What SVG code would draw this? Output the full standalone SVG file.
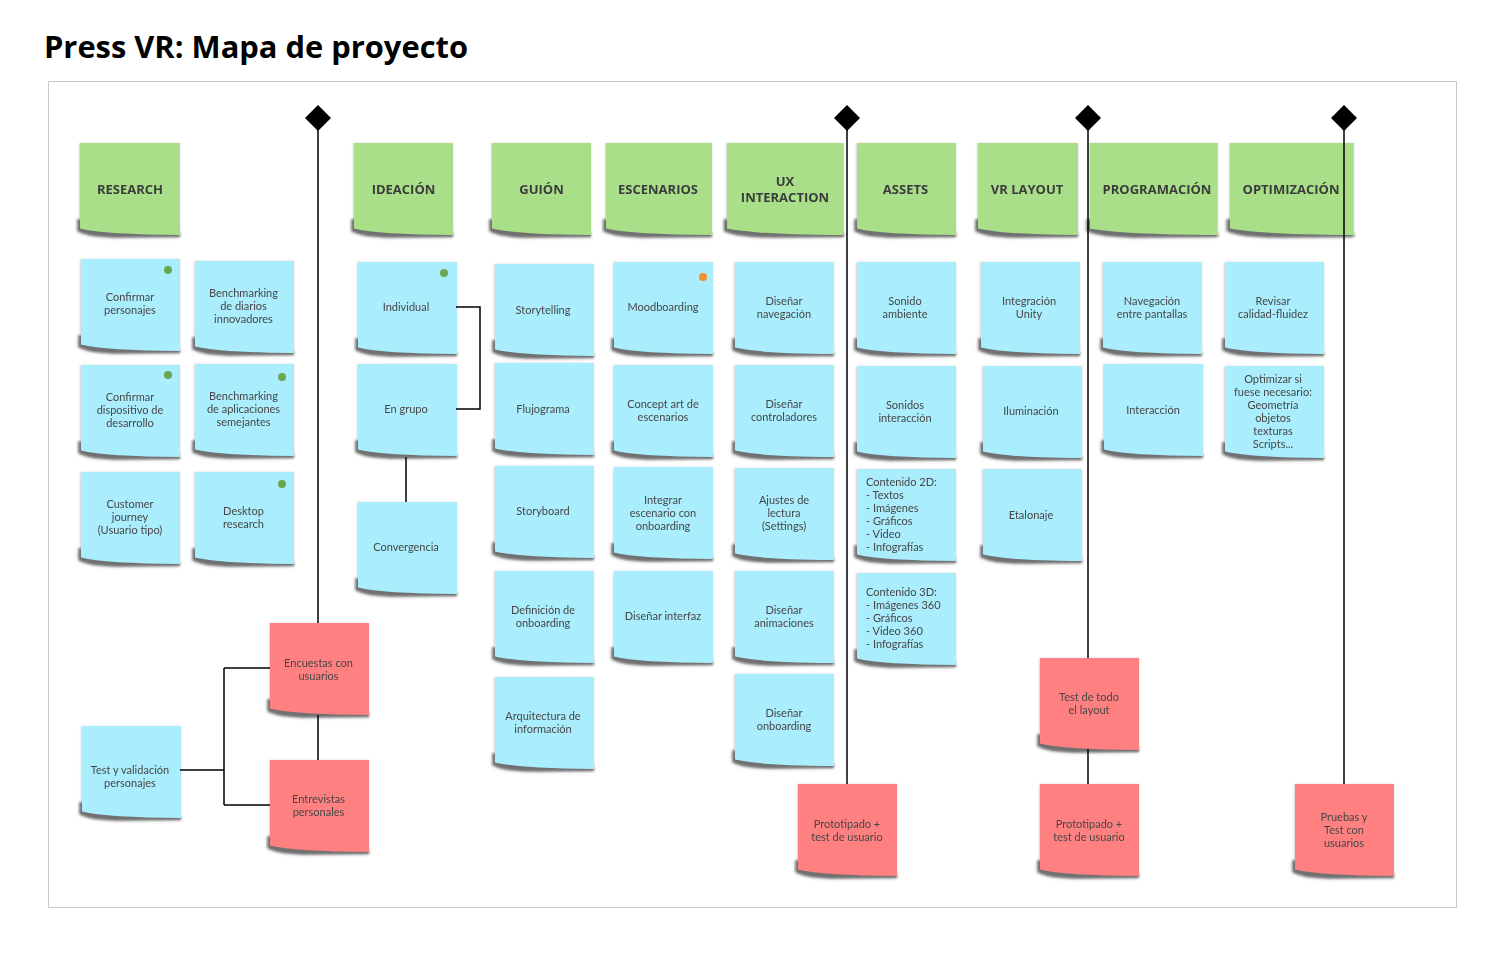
<svg xmlns="http://www.w3.org/2000/svg" xmlns:xlink="http://www.w3.org/1999/xlink" width="1504" height="962" viewBox="0 0 1504 962">
<style>
.blue{fill:#aaedfd}.green{fill:#aadf89}.red{fill:#ff8080}
.sh{fill:#6f6f6f;filter:url(#blur)}
.note{filter:url(#soft)}
text{font-family:Lato,"Open Sans","Liberation Sans",sans-serif}
.t{font-size:11px;fill:#474747;text-anchor:middle}
.tl{font-size:11px;fill:#474747;text-anchor:start}
.h{font-family:"Open Sans","Noto Sans","Liberation Sans",sans-serif;font-size:13px;font-weight:700;fill:#3b3b3b;text-anchor:middle}
.c{stroke:#000;stroke-width:1.5;fill:none}
.dg{fill:#6aa84f}.do{fill:#f5902f}
</style>
<defs>
<filter id="blur" x="-10%" y="-10%" width="120%" height="130%"><feGaussianBlur stdDeviation="1.1"/></filter>
<filter id="soft" x="-10%" y="-10%" width="120%" height="125%"><feDropShadow dx="-0.5" dy="0.5" stdDeviation="1.2" flood-color="#000" flood-opacity="0.25"/></filter>
<path id="shp" d="M0,0 H99 V92 Q25,91.5 0,85.5 Z"/>
<path id="shd" d="M-2.5,76 L-2.5,88 Q8,94.5 40,94.5 L99,94 L99,90 Z"/>
</defs>
<rect x="0" y="0" width="1504" height="962" fill="#fff"/>
<text x="44" y="58" textLength="424" lengthAdjust="spacingAndGlyphs" style="font-family:'Open Sans','Noto Sans',sans-serif;font-size:30px;font-weight:700;fill:#000">Press VR: Mapa de proyecto</text>
<rect x="48.5" y="81.5" width="1408" height="826" fill="#fff" stroke="#c8c8c8" stroke-width="1"/>

<!-- Headers -->
<g id="h-research" class="note" transform="translate(80,143)"><use href="#shd" class="sh" transform="scale(1.01,1)"/><use href="#shp" class="green" transform="scale(1.01,1)"/><text class="h" x="50" y="51">RESEARCH</text></g>
<g id="h-ideacion" class="note" transform="translate(354,143)"><use href="#shd" class="sh"/><use href="#shp" class="green"/><text class="h" x="49.5" y="51">IDEACIÓN</text></g>
<g id="h-guion" class="note" transform="translate(492,143)"><use href="#shd" class="sh"/><use href="#shp" class="green"/><text class="h" x="49.5" y="51">GUIÓN</text></g>
<g id="h-escenarios" class="note" transform="translate(606,143)"><use href="#shd" class="sh" transform="scale(1.07,1)"/><use href="#shp" class="green" transform="scale(1.07,1)"/><text class="h" x="52" y="51">ESCENARIOS</text></g>
<g id="h-ux" class="note" transform="translate(727,143)"><use href="#shd" class="sh" transform="scale(1.18,1)"/><use href="#shp" class="green" transform="scale(1.18,1)"/><text class="h" x="58" y="43">UX</text><text class="h" x="58" y="59">INTERACTION</text></g>
<g id="h-assets" class="note" transform="translate(857,143)"><use href="#shd" class="sh"/><use href="#shp" class="green"/><text class="h" x="48.5" y="51">ASSETS</text></g>
<g id="h-vrlayout" class="note" transform="translate(978,143)"><use href="#shd" class="sh" transform="scale(1.01,1)"/><use href="#shp" class="green" transform="scale(1.01,1)"/><text class="h" x="49" y="51">VR LAYOUT</text></g>
<g id="h-programacion" class="note" transform="translate(1090,143)"><use href="#shd" class="sh" transform="scale(1.29,1)"/><use href="#shp" class="green" transform="scale(1.29,1)"/><text class="h" x="67" y="51">PROGRAMACIÓN</text></g>
<g id="h-optimizacion" class="note" transform="translate(1230,143)"><use href="#shd" class="sh" transform="scale(1.25,1)"/><use href="#shp" class="green" transform="scale(1.25,1)"/><text class="h" x="61" y="51">OPTIMIZACIÓN</text></g>

<!-- Research -->
<g id="n-confirmar-personajes" class="note" transform="translate(81,259)"><use href="#shd" class="sh"/><use href="#shp" class="blue"/><circle class="dg" cx="87" cy="11" r="4"/><text class="t" x="49" y="42">Confirmar</text><text class="t" x="49" y="55">personajes</text></g>
<g id="n-bench-diarios" class="note" transform="translate(195,261)"><use href="#shd" class="sh"/><use href="#shp" class="blue"/><text class="t" x="48.5" y="36">Benchmarking</text><text class="t" x="48.5" y="49">de diarios</text><text class="t" x="48.5" y="62">innovadores</text></g>
<g id="n-confirmar-dispositivo" class="note" transform="translate(81,365)"><use href="#shd" class="sh"/><use href="#shp" class="blue"/><circle class="dg" cx="87" cy="10" r="4"/><text class="t" x="49" y="36">Confirmar</text><text class="t" x="49" y="49">dispositivo de</text><text class="t" x="49" y="62">desarrollo</text></g>
<g id="n-bench-apps" class="note" transform="translate(195,364)"><use href="#shd" class="sh"/><use href="#shp" class="blue"/><circle class="dg" cx="87" cy="13" r="4"/><text class="t" x="48.5" y="36">Benchmarking</text><text class="t" x="48.5" y="49">de aplicaciones</text><text class="t" x="48.5" y="62">semejantes</text></g>
<g id="n-customer-journey" class="note" transform="translate(81,472)"><use href="#shd" class="sh"/><use href="#shp" class="blue"/><text class="t" x="49" y="36">Customer</text><text class="t" x="49" y="49">journey</text><text class="t" x="49" y="62">(Usuario tipo)</text></g>
<g id="n-desktop-research" class="note" transform="translate(195,472)"><use href="#shd" class="sh"/><use href="#shp" class="blue"/><circle class="dg" cx="87" cy="12" r="4"/><text class="t" x="48.5" y="43">Desktop</text><text class="t" x="48.5" y="56">research</text></g>
<g id="n-test-validacion" class="note" transform="translate(82,726)"><use href="#shd" class="sh"/><use href="#shp" class="blue"/><text class="t" x="48" y="48">Test y validación</text><text class="t" x="48" y="61">personajes</text></g>
<g id="n-encuestas" class="note" transform="translate(270,623)"><use href="#shd" class="sh"/><use href="#shp" class="red"/><text class="t" x="48.5" y="44">Encuestas con</text><text class="t" x="48.5" y="57">usuarios</text></g>
<g id="n-entrevistas" class="note" transform="translate(270,760)"><use href="#shd" class="sh"/><use href="#shp" class="red"/><text class="t" x="48.5" y="43">Entrevistas</text><text class="t" x="48.5" y="56">personales</text></g>

<!-- Ideacion -->
<g id="n-individual" class="note" transform="translate(358,262)"><use href="#shd" class="sh"/><use href="#shp" class="blue"/><circle class="dg" cx="86" cy="11" r="4"/><text class="t" x="48" y="49">Individual</text></g>
<g id="n-en-grupo" class="note" transform="translate(358,364)"><use href="#shd" class="sh"/><use href="#shp" class="blue"/><text class="t" x="48" y="49">En grupo</text></g>
<g id="n-convergencia" class="note" transform="translate(358,502)"><use href="#shd" class="sh"/><use href="#shp" class="blue"/><text class="t" x="48" y="49">Convergencia</text></g>

<!-- Guion -->
<g id="n-storytelling" class="note" transform="translate(495,264)"><use href="#shd" class="sh"/><use href="#shp" class="blue"/><text class="t" x="48" y="50">Storytelling</text></g>
<g id="n-flujograma" class="note" transform="translate(495,363)"><use href="#shd" class="sh"/><use href="#shp" class="blue"/><text class="t" x="48" y="50">Flujograma</text></g>
<g id="n-storyboard" class="note" transform="translate(495,466)"><use href="#shd" class="sh"/><use href="#shp" class="blue"/><text class="t" x="48" y="49">Storyboard</text></g>
<g id="n-def-onboarding" class="note" transform="translate(495,571)"><use href="#shd" class="sh"/><use href="#shp" class="blue"/><text class="t" x="48" y="43">Definición de</text><text class="t" x="48" y="56">onboarding</text></g>
<g id="n-arquitectura" class="note" transform="translate(495,677)"><use href="#shd" class="sh"/><use href="#shp" class="blue"/><text class="t" x="48" y="43">Arquitectura de</text><text class="t" x="48" y="56">información</text></g>

<!-- Escenarios -->
<g id="n-moodboarding" class="note" transform="translate(614,262)"><use href="#shd" class="sh"/><use href="#shp" class="blue"/><circle class="do" cx="89" cy="15" r="4"/><text class="t" x="49" y="49">Moodboarding</text></g>
<g id="n-concept-art" class="note" transform="translate(614,365)"><use href="#shd" class="sh"/><use href="#shp" class="blue"/><text class="t" x="49" y="43">Concept art de</text><text class="t" x="49" y="56">escenarios</text></g>
<g id="n-integrar-escenario" class="note" transform="translate(614,467)"><use href="#shd" class="sh"/><use href="#shp" class="blue"/><text class="t" x="49" y="37">Integrar</text><text class="t" x="49" y="50">escenario con</text><text class="t" x="49" y="63">onboarding</text></g>
<g id="n-disenar-interfaz" class="note" transform="translate(614,571)"><use href="#shd" class="sh"/><use href="#shp" class="blue"/><text class="t" x="49" y="49">Diseñar interfaz</text></g>

<!-- UX -->
<g id="n-disenar-navegacion" class="note" transform="translate(735,262)"><use href="#shd" class="sh"/><use href="#shp" class="blue"/><text class="t" x="49" y="43">Diseñar</text><text class="t" x="49" y="56">navegación</text></g>
<g id="n-disenar-controladores" class="note" transform="translate(735,365)"><use href="#shd" class="sh"/><use href="#shp" class="blue"/><text class="t" x="49" y="43">Diseñar</text><text class="t" x="49" y="56">controladores</text></g>
<g id="n-ajustes-lectura" class="note" transform="translate(735,468)"><use href="#shd" class="sh"/><use href="#shp" class="blue"/><text class="t" x="49" y="36">Ajustes de</text><text class="t" x="49" y="49">lectura</text><text class="t" x="49" y="62">(Settings)</text></g>
<g id="n-disenar-animaciones" class="note" transform="translate(735,571)"><use href="#shd" class="sh"/><use href="#shp" class="blue"/><text class="t" x="49" y="43">Diseñar</text><text class="t" x="49" y="56">animaciones</text></g>
<g id="n-disenar-onboarding" class="note" transform="translate(735,674)"><use href="#shd" class="sh"/><use href="#shp" class="blue"/><text class="t" x="49" y="43">Diseñar</text><text class="t" x="49" y="56">onboarding</text></g>
<g id="n-prototipado-1" class="note" transform="translate(798,784)"><use href="#shd" class="sh"/><use href="#shp" class="red"/><text class="t" x="49" y="44">Prototipado +</text><text class="t" x="49" y="57">test de usuario</text></g>

<!-- Assets -->
<g id="n-sonido-ambiente" class="note" transform="translate(857,262)"><use href="#shd" class="sh"/><use href="#shp" class="blue"/><text class="t" x="48" y="43">Sonido</text><text class="t" x="48" y="56">ambiente</text></g>
<g id="n-sonidos-interaccion" class="note" transform="translate(857,366)"><use href="#shd" class="sh"/><use href="#shp" class="blue"/><text class="t" x="48" y="43">Sonidos</text><text class="t" x="48" y="56">interacción</text></g>
<g id="n-contenido-2d" class="note" transform="translate(857,469)"><use href="#shd" class="sh"/><use href="#shp" class="blue"/><text class="tl" x="9" y="17">Contenido 2D:</text><text class="tl" x="9" y="30">- Textos</text><text class="tl" x="9" y="43">- Imágenes</text><text class="tl" x="9" y="56">- Gráficos</text><text class="tl" x="9" y="69">- Video</text><text class="tl" x="9" y="82">- Infografías</text></g>
<g id="n-contenido-3d" class="note" transform="translate(857,573)"><use href="#shd" class="sh"/><use href="#shp" class="blue"/><text class="tl" x="9" y="23">Contenido 3D:</text><text class="tl" x="9" y="36">- Imágenes 360</text><text class="tl" x="9" y="49">- Gráficos</text><text class="tl" x="9" y="62">- Video 360</text><text class="tl" x="9" y="75">- Infografías</text></g>

<!-- VR Layout -->
<g id="n-integracion-unity" class="note" transform="translate(981,262)"><use href="#shd" class="sh"/><use href="#shp" class="blue"/><text class="t" x="48" y="43">Integración</text><text class="t" x="48" y="56">Unity</text></g>
<g id="n-iluminacion" class="note" transform="translate(983,366)"><use href="#shd" class="sh"/><use href="#shp" class="blue"/><text class="t" x="48" y="49">Iluminación</text></g>
<g id="n-etalonaje" class="note" transform="translate(983,469)"><use href="#shd" class="sh"/><use href="#shp" class="blue"/><text class="t" x="48" y="50">Etalonaje</text></g>
<g id="n-test-layout" class="note" transform="translate(1040,658)"><use href="#shd" class="sh"/><use href="#shp" class="red"/><text class="t" x="49" y="43">Test de todo</text><text class="t" x="49" y="56">el layout</text></g>
<g id="n-prototipado-2" class="note" transform="translate(1040,784)"><use href="#shd" class="sh"/><use href="#shp" class="red"/><text class="t" x="49" y="44">Prototipado +</text><text class="t" x="49" y="57">test de usuario</text></g>

<!-- Programacion -->
<g id="n-navegacion-pantallas" class="note" transform="translate(1103,262)"><use href="#shd" class="sh"/><use href="#shp" class="blue"/><text class="t" x="49" y="43">Navegación</text><text class="t" x="49" y="56">entre pantallas</text></g>
<g id="n-interaccion" class="note" transform="translate(1104,364)"><use href="#shd" class="sh"/><use href="#shp" class="blue"/><text class="t" x="49" y="50">Interacción</text></g>

<!-- Optimizacion -->
<g id="n-revisar-calidad" class="note" transform="translate(1225,262)"><use href="#shd" class="sh"/><use href="#shp" class="blue"/><text class="t" x="48" y="43">Revisar</text><text class="t" x="48" y="56">calidad-fluidez</text></g>
<g id="n-optimizar" class="note" transform="translate(1225,366)"><use href="#shd" class="sh"/><use href="#shp" class="blue"/><text class="t" x="48" y="17">Optimizar si</text><text class="t" x="48" y="30">fuese necesario:</text><text class="t" x="48" y="43">Geometría</text><text class="t" x="48" y="56">objetos</text><text class="t" x="48" y="69">texturas</text><text class="t" x="48" y="82">Scripts...</text></g>
<g id="n-pruebas" class="note" transform="translate(1295,784)"><use href="#shd" class="sh"/><use href="#shp" class="red"/><text class="t" x="49" y="37">Pruebas y</text><text class="t" x="49" y="50">Test con</text><text class="t" x="49" y="63">usuarios</text></g>

<!-- Connectors -->
<g id="connectors">
<path class="c" d="M318,118 V623"/>
<path class="c" d="M318,715 V760"/>
<path class="c" d="M180,770 H224 M224,668 V805 M224,668 H270 M224,805 H270"/>
<path class="c" d="M456,307 H480 V409 H456"/>
<path class="c" d="M406,457 V502"/>
<path class="c" d="M847,118 V784"/>
<path class="c" d="M1088,118 V658"/>
<path class="c" d="M1088,749 V784"/>
<path class="c" d="M1344,118 V784"/>
</g>
<g id="milestones" fill="#000">
<path d="M318,105 L331,118 L318,131 L305,118 Z"/>
<path d="M847,105 L860,118 L847,131 L834,118 Z"/>
<path d="M1088,105 L1101,118 L1088,131 L1075,118 Z"/>
<path d="M1344,105 L1357,118 L1344,131 L1331,118 Z"/>
</g>
</svg>
